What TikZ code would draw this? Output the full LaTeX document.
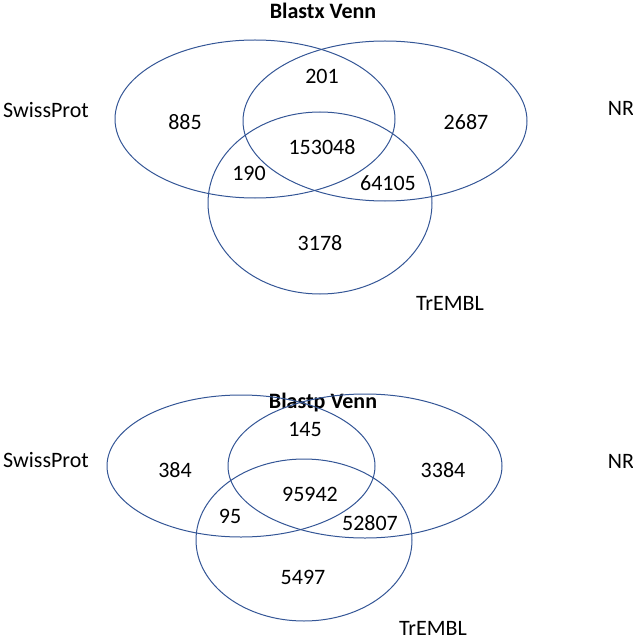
\documentclass[tikz,border=0pt]{standalone}
\usepackage{fontspec}
\setmainfont{Carlito}
\definecolor{vb}{RGB}{52,86,150}
\begin{document}
\begin{tikzpicture}[x=1pt,y=-1pt,
  ring/.style={draw=vb,line width=1pt},
  lab/.style={font=\fontsize{22}{26}\selectfont},
  ttl/.style={font=\bfseries\fontsize{22}{26}\selectfont}]
\useasboundingbox (0,0) rectangle (632,639);
% top
\node[ttl] (t1) at (323,11) {Blastx Venn};
\draw[ring] (255,119) ellipse [x radius=140, y radius=79];
\draw[ring] (385,121) ellipse [x radius=142, y radius=80];
\draw[ring] (320,203) ellipse [x radius=112, y radius=91];
\node[lab] (s1) at (46,110) {SwissProt};
\node[lab] (n1) at (621,108) {NR};
\node[lab] (e1) at (450,303) {TrEMBL};
\node[lab] (a1) at (185,122) {885};
\node[lab] (a2) at (322,76) {201};
\node[lab] (a3) at (466,122) {2687};
\node[lab] (a4) at (322,147) {153048};
\node[lab] (a5) at (249,173) {190};
\node[lab] (a6) at (388,183) {64105};
\node[lab] (a7) at (320,243) {3178};
% bottom
\node[ttl] (t2) at (323,403) {Blastp Venn};
\draw[ring] (241,466) ellipse [x radius=134, y radius=71];
\draw[ring] (365,466) ellipse [x radius=137, y radius=72];
\draw[ring] (304,540) ellipse [x radius=108, y radius=81];
\node[lab] (s2) at (46,460) {SwissProt};
\node[lab] (n2) at (621,461) {NR};
\node[lab] (e2) at (433,628) {TrEMBL};
\node[lab] (b1) at (175,470) {384};
\node[lab] (b2) at (305,429) {145};
\node[lab] (b3) at (443,470) {3384};
\node[lab] (b4) at (310,494) {95942};
\node[lab] (b5) at (230,516) {95};
\node[lab] (b6) at (370,523) {52807};
\node[lab] (b7) at (303,577) {5497};
\end{tikzpicture}
\end{document}
